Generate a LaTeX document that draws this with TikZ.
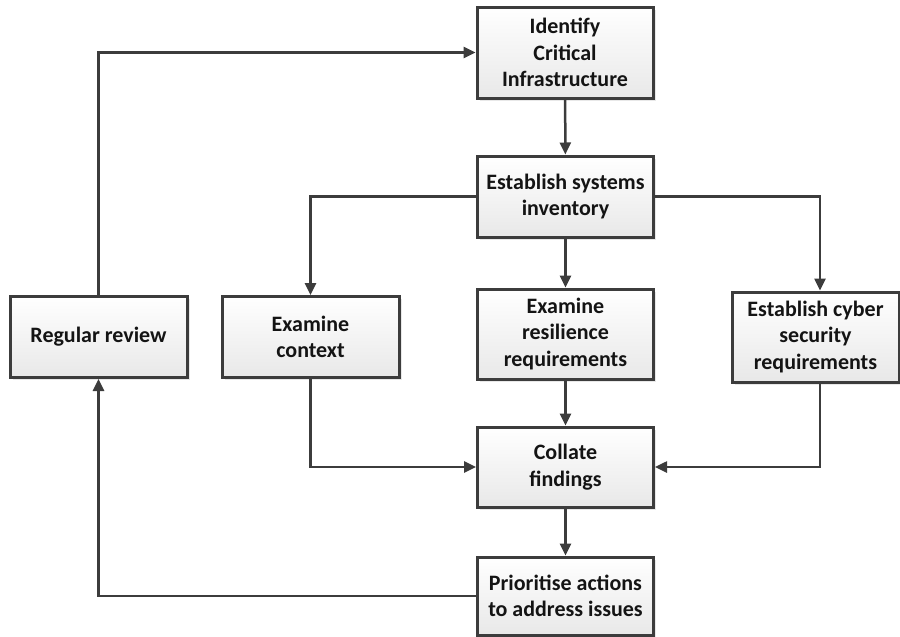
\documentclass[tikz,border=0pt]{standalone}
\usepackage{fontspec}
\setmainfont{Carlito}
\usetikzlibrary{arrows.meta,shadows}
\definecolor{edge}{HTML}{3C3C3C}
\definecolor{txt}{HTML}{141414}
\tikzset{
  procbox/.style={draw=edge, line width=3pt, top color=white, bottom color=black!9,
    minimum height=81pt, inner sep=0pt, align=center,
    font=\fontsize{22}{26.5}\selectfont\bfseries, text=txt,
    drop shadow={opacity=0.18, shadow xshift=2.5pt, shadow yshift=-2.5pt}},
  conn/.style={draw=edge, line width=2.5pt, -{Triangle[length=12pt,width=11pt]}},
  plainconn/.style={draw=edge, line width=2.5pt}
}
\begin{document}
\begin{tikzpicture}[x=1pt,y=-1pt]
\useasboundingbox (0,0) rectangle (900,637);
\node[procbox, minimum width=176pt, minimum height=91pt] (id) at (565,52.5) {Identify\\Critical\\Infrastructure};
\node[procbox, minimum width=176pt] (est) at (565.5,196.5) {Establish systems\\inventory};
\node[procbox, minimum width=177pt] (ctx) at (310.5,337) {Examine\\context};
\node[procbox, minimum width=176pt, minimum height=90pt] (res) at (565.5,334) {Examine\\resilience\\requirements};
\node[procbox, minimum width=167pt, minimum height=90pt] (cyb) at (815.5,337) {Establish cyber\\security\\requirements};
\node[procbox, minimum width=177pt] (rev) at (98.5,337) {Regular review};
\node[procbox, minimum width=176pt, minimum height=80pt] (col) at (565.5,467) {Collate\\findings};
\node[procbox, minimum width=176pt, minimum height=78pt] (pri) at (565.5,596) {Prioritise actions\\to address issues};
\coordinate (cybtop) at ([xshift=4.5pt]cyb.north);
\coordinate (cybbot) at ([xshift=4.5pt]cyb.south);
\draw[conn] (id) -- (est);
\draw[conn] (est.west) -| (ctx.north);
\draw[conn] (est) -- (res);
\draw[conn] (est.east) -| (cybtop);
\draw[conn] (ctx.south) |- (col.west);
\draw[conn] (res) -- (col);
\draw[conn] (cybbot) |- (col.east);
\draw[conn] (col) -- (pri);
\draw[conn] (pri.west) -| (rev.south);
\draw[conn] (rev.north) |- (id.west);
\end{tikzpicture}
\end{document}
